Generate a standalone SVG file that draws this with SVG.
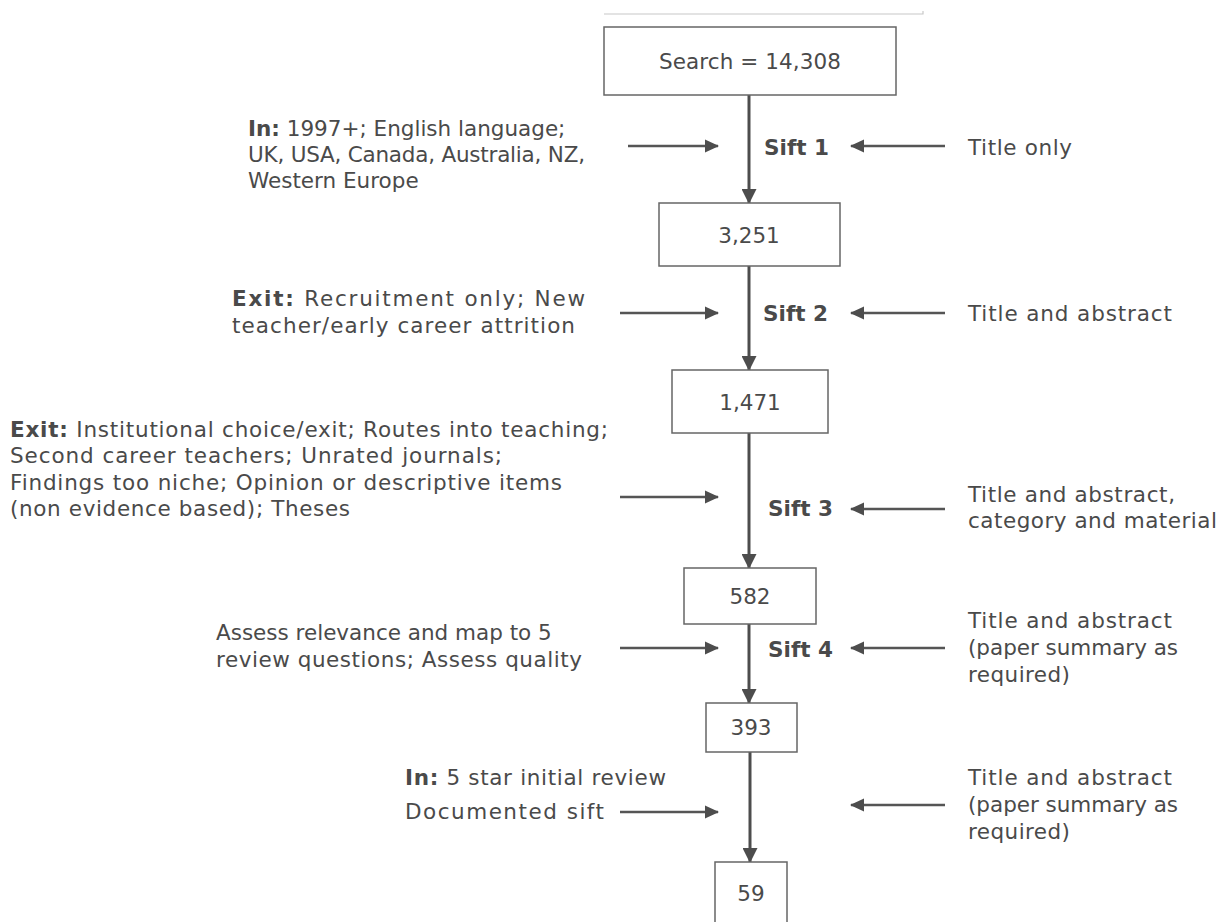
<svg xmlns="http://www.w3.org/2000/svg" width="1221" height="922" viewBox="0 0 1221 922">
<defs>
<marker id="ah" markerWidth="14" markerHeight="14" refX="13" refY="7" orient="auto" markerUnits="userSpaceOnUse">
<path d="M0,0.5 L14,7 L0,13.5 Z" fill="#4d4d4d"/>
</marker>
<marker id="ahv" markerWidth="15" markerHeight="15" refX="14" refY="7.5" orient="auto" markerUnits="userSpaceOnUse">
<path d="M0,0 L15,7.5 L0,15 Z" fill="#4d4d4d"/>
</marker>
<style>
text{font-family:"DejaVu Sans","Verdana",sans-serif;font-size:21.5px;fill:#4a4a4a;}
.c{text-anchor:middle;dominant-baseline:central;}
.b{font-weight:bold;}
.box{fill:#fff;stroke:#666;stroke-width:1.5;}
.v{stroke:#4d4d4d;stroke-width:3;fill:none;marker-end:url(#ahv);}
.h{stroke:#555;stroke-width:2.5;fill:none;marker-end:url(#ah);}
</style>
</defs>
<rect width="1221" height="922" fill="#fff"/>
<path d="M604,14 H923 V11" stroke="#c8c8c8" stroke-width="1.2" fill="none"/>

<g id="connectors">
<line class="v" x1="749" y1="95" x2="749" y2="203"/>
<line class="v" x1="749" y1="266" x2="749" y2="370"/>
<line class="v" x1="749" y1="433" x2="749" y2="568"/>
<line class="v" x1="749" y1="624" x2="749" y2="703"/>
<line class="v" x1="750" y1="752" x2="750" y2="862"/>
<line class="h" x1="628" y1="146" x2="718" y2="146"/>
<line class="h" x1="945" y1="146" x2="851" y2="146"/>
<line class="h" x1="620" y1="313" x2="718" y2="313"/>
<line class="h" x1="945" y1="313" x2="851" y2="313"/>
<line class="h" x1="620" y1="497" x2="718" y2="497"/>
<line class="h" x1="945" y1="509" x2="851" y2="509"/>
<line class="h" x1="620" y1="648" x2="718" y2="648"/>
<line class="h" x1="945" y1="648" x2="851" y2="648"/>
<line class="h" x1="620" y1="812" x2="718" y2="812"/>
<line class="h" x1="945" y1="805" x2="851" y2="805"/>
</g>

<g id="n-search"><rect class="box" x="604" y="27" width="292" height="68"/><text class="c" x="750" y="61" textLength="182">Search = 14,308</text></g>
<g id="n-3251"><rect class="box" x="659" y="203" width="181" height="63"/><text class="c" x="749" y="235">3,251</text></g>
<g id="n-1471"><rect class="box" x="672" y="370" width="156" height="63"/><text class="c" x="750" y="402">1,471</text></g>
<g id="n-582"><rect class="box" x="684" y="568" width="132" height="56"/><text class="c" x="750" y="596">582</text></g>
<g id="n-393"><rect class="box" x="706" y="703" width="91" height="49"/><text class="c" x="751" y="727">393</text></g>
<g id="n-59"><rect class="box" x="715" y="862" width="72" height="62"/><text class="c" x="751" y="893">59</text></g>

<g id="sift1">
<text x="248" y="136"><tspan class="b">In:</tspan> 1997+; English language;</text>
<text x="248" y="162" textLength="337">UK, USA, Canada, Australia, NZ,</text>
<text x="248" y="188">Western Europe</text>
<text class="b" x="764" y="155" textLength="65">Sift 1</text>
<text x="968" y="155" textLength="104">Title only</text>
</g>
<g id="sift2">
<text x="232" y="306" textLength="353"><tspan class="b">Exit:</tspan> Recruitment only; New</text>
<text x="232" y="333" textLength="343">teacher/early career attrition</text>
<text class="b" x="763" y="321" textLength="65">Sift 2</text>
<text x="968" y="321" textLength="204">Title and abstract</text>
</g>
<g id="sift3">
<text x="10" y="437" textLength="598"><tspan class="b">Exit:</tspan> Institutional choice/exit; Routes into teaching;</text>
<text x="10" y="463" textLength="492">Second career teachers; Unrated journals;</text>
<text x="10" y="490" textLength="552">Findings too niche; Opinion or descriptive items</text>
<text x="10" y="516" textLength="340">(non evidence based); Theses</text>
<text class="b" x="768" y="516" textLength="65">Sift 3</text>
<text x="968" y="502" textLength="207">Title and abstract,</text>
<text x="968" y="528" textLength="249">category and material</text>
</g>
<g id="sift4">
<text x="216" y="640">Assess relevance and map to 5</text>
<text x="216" y="667" textLength="366">review questions; Assess quality</text>
<text class="b" x="768" y="657" textLength="65">Sift 4</text>
<text x="968" y="628" textLength="204">Title and abstract</text>
<text x="968" y="655" textLength="210">(paper summary as</text>
<text x="968" y="682" textLength="102">required)</text>
</g>
<g id="sift5">
<text x="405" y="785" textLength="261"><tspan class="b">In:</tspan> 5 star initial review</text>
<text x="405" y="819" textLength="199">Documented sift</text>
<text x="968" y="785" textLength="204">Title and abstract</text>
<text x="968" y="812" textLength="210">(paper summary as</text>
<text x="968" y="839" textLength="102">required)</text>
</g>
</svg>
